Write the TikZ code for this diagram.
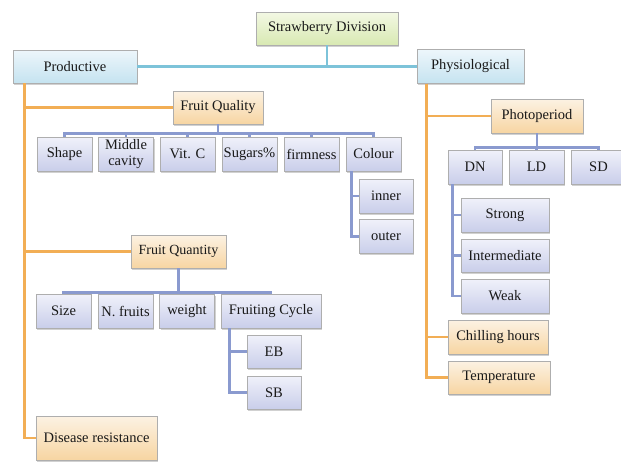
\documentclass[tikz,border=0pt]{standalone}
\usepackage{fontspec}
\setmainfont{Liberation Serif}
\usetikzlibrary{shadows}

\definecolor{greentop}{HTML}{F3F8E4}
\definecolor{greenbot}{HTML}{D8E9B2}
\definecolor{bluetop}{HTML}{EDF6FB}
\definecolor{bluebot}{HTML}{C5E3F0}
\definecolor{orangetop}{HTML}{FCF2E3}
\definecolor{orangebot}{HTML}{F7D5A2}
\definecolor{lavtop}{HTML}{F0F1FA}
\definecolor{lavbot}{HTML}{C9CEEA}
\definecolor{boxedge}{HTML}{AEAEAE}
\definecolor{blueline}{HTML}{7DC3D9}
\definecolor{orangeline}{HTML}{F2AE55}
\definecolor{lavline}{HTML}{8A9ACF}

\tikzset{
  box/.style={draw=boxedge, line width=0.6pt, inner sep=1pt, align=center,
    font=\fontsize{14.5}{16}\selectfont, text=black!90,
    drop shadow={shadow xshift=1pt, shadow yshift=-1.5pt, opacity=0.3, fill=black!60}},
  rootbox/.style={box, top color=greentop, bottom color=greenbot},
  mainbox/.style={box, top color=bluetop, bottom color=bluebot},
  groupbox/.style={box, top color=orangetop, bottom color=orangebot},
  itembox/.style={box, top color=lavtop, bottom color=lavbot},
  bline/.style={draw=blueline, line width=2.8pt},
  oline/.style={draw=orangeline, line width=2.8pt},
  lline/.style={draw=lavline, line width=2.8pt}
}

\begin{document}
\begin{tikzpicture}[x=1pt, y=-1pt]
  \useasboundingbox (0,0) rectangle (621,461);

  % Top level
  \node[rootbox, minimum width=142pt, minimum height=33pt] (root) at (327,28.5) {Strawberry Division};
  \node[mainbox, minimum width=124pt, minimum height=33pt] (prod) at (75,66.5) {Productive};
  \node[mainbox, minimum width=107pt, minimum height=34pt] (phys) at (470.5,66.5) {Physiological};

  \draw[bline] (root.south) -- (root.south |- prod.east);
  \draw[bline] (prod.east) -- (phys.west);

  % Productive branch
  \node[groupbox, minimum width=90pt, minimum height=33pt] (fq) at (218,107.5) {Fruit Quality};
  \node[groupbox, font=\fontsize{14}{16}\selectfont, minimum width=95pt, minimum height=33pt] (fqn) at (178.5,251.5) {Fruit Quantity};
  \node[groupbox, minimum width=121pt, minimum height=44pt] (dis) at (96.5,438) {Disease resistance};

  \draw[oline] ([xshift=12pt]prod.south west) |- (fq.west);
  \draw[oline] ([xshift=12pt]prod.south west) |- (fqn.west);
  \draw[oline] ([xshift=12pt]prod.south west) |- (dis.west);

  % Fruit quality
  \node[itembox, minimum width=55pt, minimum height=34pt] (shape) at (64.5,154) {Shape};
  \node[itembox, minimum width=55pt, minimum height=34pt] (mid) at (126,154) {Middle\\cavity};
  \node[itembox, minimum width=55pt, minimum height=34pt] (vitc) at (187.5,154) {Vit. C};
  \node[itembox, minimum width=55pt, minimum height=34pt] (sug) at (249.5,154) {Sugars\%};
  \node[itembox, minimum width=55pt, minimum height=34pt] (firm) at (311.5,154) {firmness};
  \node[itembox, minimum width=55pt, minimum height=34pt] (col) at (373.5,154) {Colour};
  \foreach \c in {shape,mid,vitc,sug,firm,col}
    \draw[lline] (fq.south) -- ++(0,9) -| (\c.north);

  \node[itembox, minimum width=54pt, minimum height=34pt] (inner) at (386,196) {inner};
  \node[itembox, minimum width=54pt, minimum height=34pt] (outer) at (386,236.5) {outer};
  \draw[lline] ([xshift=6pt]col.south west) |- (inner.west);
  \draw[lline] ([xshift=6pt]col.south west) |- (outer.west);

  % Fruit quantity
  \node[itembox, minimum width=55pt, minimum height=34pt] (size) at (63.5,311) {Size};
  \node[itembox, minimum width=55pt, minimum height=34pt] (nfr) at (125.5,311) {N. fruits};
  \node[itembox, minimum width=55pt, minimum height=34pt] (wt) at (187,311) {weight};
  \node[itembox, minimum width=100pt, minimum height=34pt] (fc) at (271,311) {Fruiting Cycle};
  \foreach \c in {size,nfr,wt,fc}
    \draw[lline] (fqn.south) -- ++(0,24) -| (\c.north);

  \node[itembox, minimum width=54pt, minimum height=33pt] (eb) at (274,351.5) {EB};
  \node[itembox, minimum width=54pt, minimum height=33pt] (sb) at (274,392.5) {SB};
  \draw[lline] ([xshift=9pt]fc.south west) |- (eb.west);
  \draw[lline] ([xshift=9pt]fc.south west) |- (sb.west);

  % Physiological branch
  \node[groupbox, minimum width=92pt, minimum height=34pt] (photo) at (537,116) {Photoperiod};
  \node[groupbox, minimum width=100pt, minimum height=34pt] (chill) at (498,337) {Chilling hours};
  \node[groupbox, minimum width=102pt, minimum height=33pt] (temp) at (499,377.5) {Temperature};

  \draw[oline] ([xshift=10pt]phys.south west) |- (photo.west);
  \draw[oline] ([xshift=10pt]phys.south west) |- (chill.west);
  \draw[oline] ([xshift=10pt]phys.south west) |- (temp.west);

  % Photoperiod
  \node[itembox, minimum width=54pt, minimum height=34pt] (dn) at (475,167) {DN};
  \node[itembox, minimum width=55pt, minimum height=34pt] (ld) at (536.5,167) {LD};
  \node[itembox, minimum width=55pt, minimum height=34pt] (sd) at (598.5,167) {SD};
  \foreach \c in {dn,ld,sd}
    \draw[lline] (photo.south) -- ++(0,14) -| (\c.north);

  \node[itembox, minimum width=88pt, minimum height=34pt] (strong) at (505,215) {Strong};
  \node[itembox, minimum width=88pt, minimum height=33pt] (interm) at (505,255.5) {Intermediate};
  \node[itembox, minimum width=88pt, minimum height=34pt] (weak) at (505,296) {Weak};
  \draw[lline] ([xshift=5pt]dn.south west) |- (strong.west);
  \draw[lline] ([xshift=5pt]dn.south west) |- (interm.west);
  \draw[lline] ([xshift=5pt]dn.south west) |- (weak.west);

\end{tikzpicture}
\end{document}
